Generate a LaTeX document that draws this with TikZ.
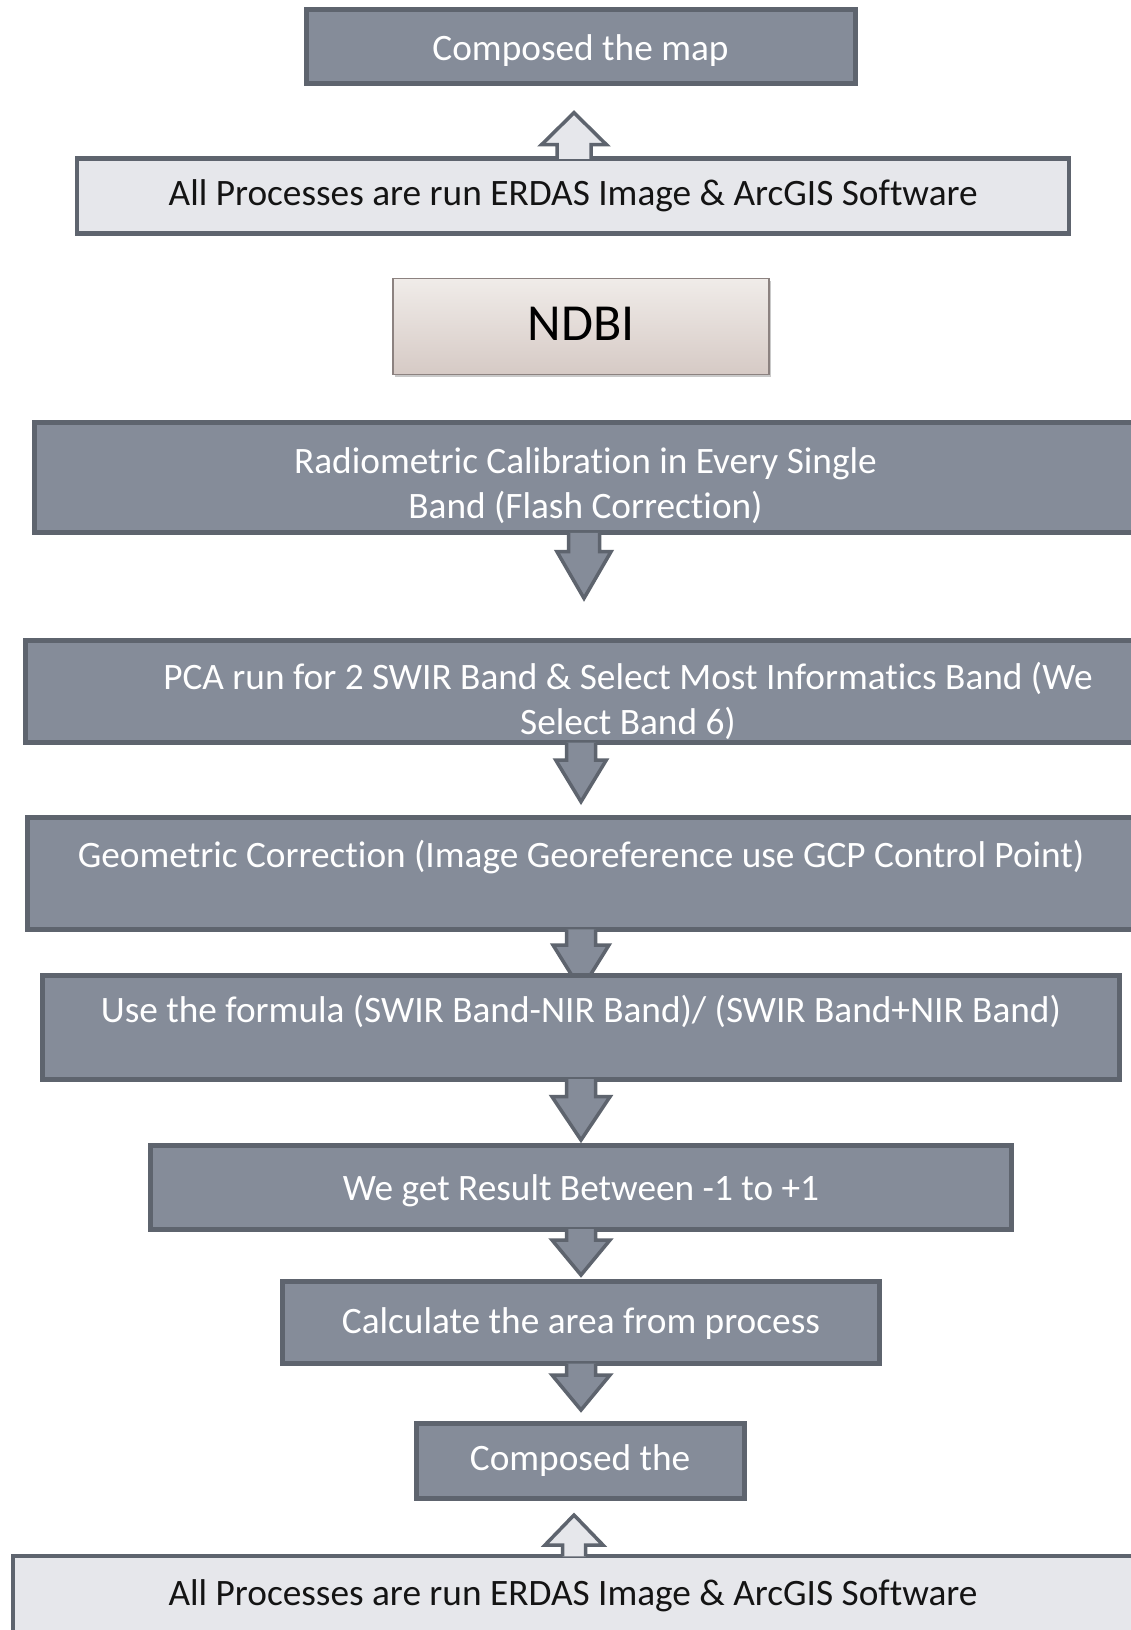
\documentclass[tikz,border=0pt]{standalone}
\usepackage{fontspec}
\setmainfont{Carlito}[Ligatures={NoCommon}]
\usetikzlibrary{calc,shadows}
\definecolor{boxfill}{HTML}{858C99}
\definecolor{boxline}{HTML}{5E646E}
\definecolor{lightfill}{HTML}{E6E7EB}
\definecolor{ndbitop}{HTML}{F0ECE9}
\definecolor{ndbibot}{HTML}{D6CAC5}
\definecolor{ndbiline}{HTML}{8C8280}
% #1 start anchor, #2 tip coordinate, #3 stem half width, #4 head half width, #5 head length, #6 style
\newcommand\downblock[6]{%
  \draw[#6] let \p1=(#1), \p2=(#2) in
    (\x2-#3pt,\y1+2.5pt) -- (\x2-#3pt,\y2+#5pt) -- (\x2-#4pt,\y2+#5pt) -- (\x2,\y2)
    -- (\x2+#4pt,\y2+#5pt) -- (\x2+#3pt,\y2+#5pt) -- (\x2+#3pt,\y1+2.5pt);}
\newcommand\upblock[6]{%
  \draw[#6] let \p1=(#1), \p2=(#2) in
    (\x2-#3pt,\y1-2.5pt) -- (\x2-#3pt,\y2-#5pt) -- (\x2-#4pt,\y2-#5pt) -- (\x2,\y2)
    -- (\x2+#4pt,\y2-#5pt) -- (\x2+#3pt,\y2-#5pt) -- (\x2+#3pt,\y1-2.5pt);}
\begin{document}
\begin{tikzpicture}[x=1pt,y=-1pt,
  basefont/.style={font=\fontsize{37.3}{45.5}\selectfont},
  darkbox/.style={draw=boxline, line width=5pt, fill=boxfill, inner sep=0pt},
  boxtext/.style={basefont, text=white, align=center, inner sep=0pt},
  lightbox/.style={basefont, draw=boxline, line width=4.5pt, fill=lightfill, text=black!92,
    align=center, inner sep=0pt},
  ndbibox/.style={draw=ndbiline, line width=1.5pt,
    top color=ndbitop, bottom color=ndbibot, inner sep=0pt,
    drop shadow={shadow xshift=2pt, shadow yshift=-3pt, opacity=0.35, fill=black!60}},
  ndbitext/.style={font=\fontsize{52}{60}\selectfont, text=black, inner sep=0pt},
  darkarrow/.style={draw=boxline, line width=3.5pt, fill=boxfill, line join=miter},
  lightarrow/.style={draw=boxline, line width=3.5pt, fill=lightfill, line join=miter}]
\useasboundingbox (0,0) rectangle (1131,1630);
\clip (0,0) rectangle (1131,1630);
\fill[white] (0,0) rectangle (1131,1630);

\node[darkbox, minimum width=549, minimum height=74] (map) at (580.5,46.7) {};
\node[boxtext] (maptext) at (580.5,50.9) {Composed the map};
\node[lightbox, minimum width=992, minimum height=75] (soft1) at (573.2,196) {All Processes are run ERDAS Image \& ArcGIS Software};
\coordinate (t0) at (574,112.7);
\upblock{soft1.north}{t0}{17}{32.5}{32}{lightarrow}

\node[ndbibox, minimum width=376, minimum height=96] (ndbi) at (581,326.4) {};
\node[ndbitext] (nditext) at (581,323.4) {NDBI};

\node[darkbox, minimum width=1102, minimum height=110] (rad) at (585.5,477.8) {};
\node[boxtext] (radtext) at (585.5,485.6)
  {Radiometric Calibration in Every Single\\Band (Flash Correction)};
\coordinate (t1) at (584,598.3);
\downblock{rad.south}{t1}{15.5}{27}{46.6}{darkarrow}

\node[darkbox, minimum width=1205, minimum height=102] (pca) at (628,691.5) {};
\node[boxtext] (pcatext) at (628,700.9)
  {PCA run for 2 SWIR Band \& Select Most Informatics Band (We\\Select Band 6)};
\coordinate (t2) at (581,801.7);
\downblock{pca.south}{t2}{14.5}{25.3}{41.7}{darkarrow}

\node[darkbox, minimum width=1107, minimum height=112] (geo) at (581,873.3) {};
\node[boxtext] (geotext) at (581,876.3)
  {Geometric Correction (Image Georeference use GCP Control Point)\\\mbox{}};
\coordinate (t3) at (581,990);
\downblock{geo.south}{t3}{14.5}{28}{45}{darkarrow}

\node[darkbox, minimum width=1077, minimum height=104] (formula) at (580.9,1027.2) {};
\node[boxtext] (formulatext) at (580.9,1031.2)
  {Use the formula (SWIR Band-NIR Band)/ (SWIR Band+NIR Band)\\\mbox{}};
\coordinate (t4) at (581,1140);
\downblock{formula.south}{t4}{14.5}{29}{43.3}{darkarrow}

\node[darkbox, minimum width=861, minimum height=84] (result) at (580.9,1187.2) {};
\node[boxtext] (resulttext) at (580.9,1191.2) {We get Result Between -1 to +1};
\coordinate (t5) at (581,1275);
\downblock{result.south}{t5}{14.5}{29}{35}{darkarrow}

\node[darkbox, minimum width=597, minimum height=82] (calc) at (580.9,1322.5) {};
\node[boxtext] (calctext) at (580.9,1323.5) {Calculate the area from process};
\coordinate (t6) at (581,1410);
\downblock{calc.south}{t6}{14.5}{29}{35}{darkarrow}

\node[darkbox, minimum width=328, minimum height=75] (comp) at (580.1,1460.7) {};
\node[boxtext] (comptext) at (580.1,1460.7) {Composed the};

\node[lightbox, minimum width=1120, minimum height=80] (soft2) at (573,1596)
  {All Processes are run ERDAS Image \& ArcGIS Software};
\coordinate (t7) at (574,1515);
\upblock{soft2.north}{t7}{11.5}{29}{30}{lightarrow}
\end{tikzpicture}
\end{document}
